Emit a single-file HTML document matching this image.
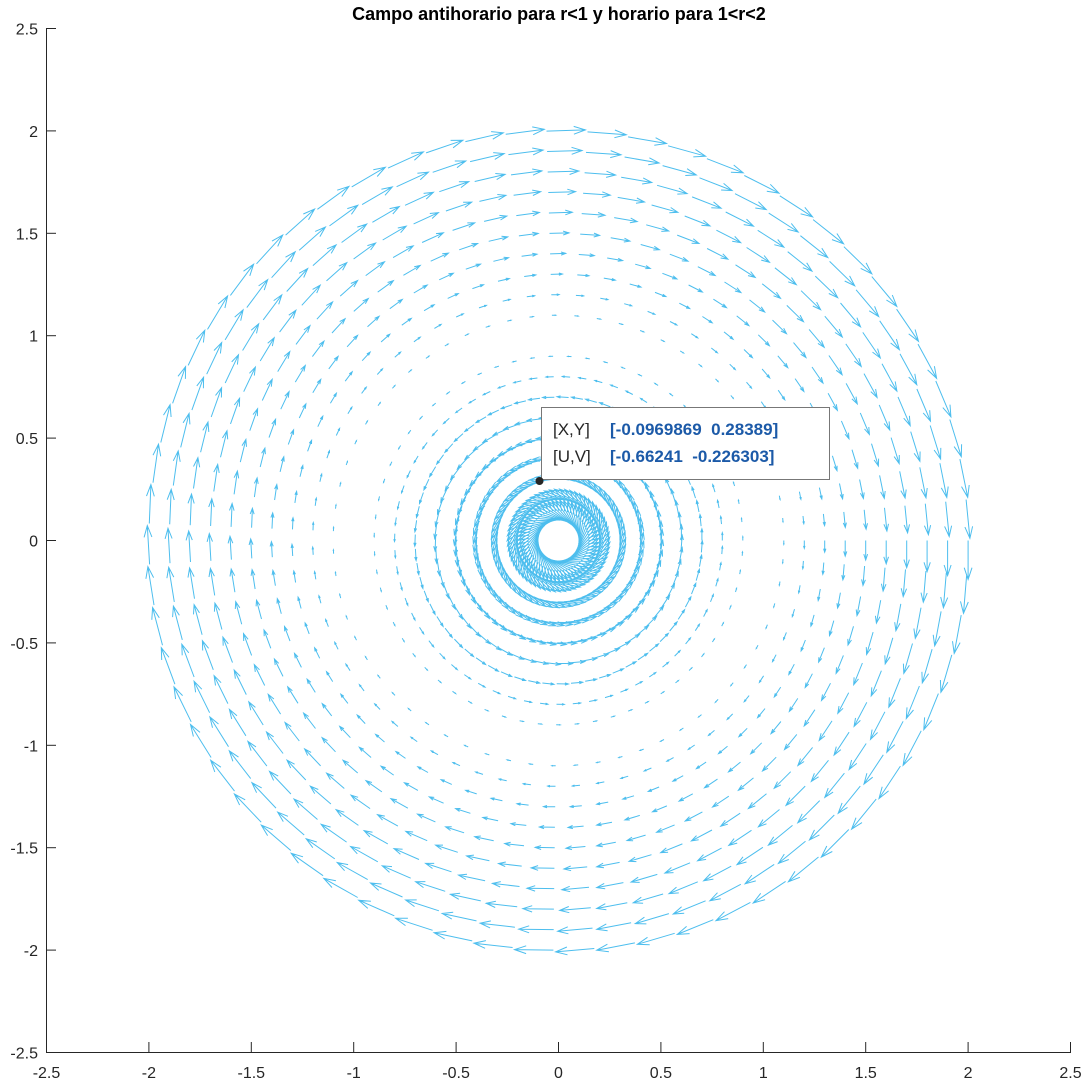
<!DOCTYPE html>
<html><head><meta charset="utf-8"><style>
body{margin:0;background:#fff}
svg text{font-family:"Liberation Sans",Arial,sans-serif}
.pre{white-space:pre}
</style></head><body>
<svg id="s" width="1088" height="1084" xmlns="http://www.w3.org/2000/svg">
<rect width="1088" height="1084" fill="#fff"/>
<g id="q" stroke="#4DBEEE" stroke-width="1" fill="none"></g>
<g stroke="#262626" stroke-width="1">
<line x1="46.5" y1="29" x2="46.5" y2="1052.5"/>
<line x1="46" y1="1052.5" x2="1071" y2="1052.5"/>
</g>
<g id="ax" font-size="16" fill="#262626"></g>
<text x="559" y="20" font-size="18" font-weight="bold" text-anchor="middle" fill="#000">Campo antihorario para r&lt;1 y horario para 1&lt;r&lt;2</text>
<rect x="541.5" y="407.5" width="288" height="72" fill="#fff" stroke="#777"/>
<text x="553" y="435" font-size="17" fill="#262626">[X,Y]</text>
<text class="pre" x="610" y="435" font-size="17" font-weight="bold" fill="#1c5aa8" xml:space="preserve">[-0.0969869  0.28389]</text>
<text x="553" y="462" font-size="17" fill="#262626">[U,V]</text>
<text class="pre" x="610" y="462" font-size="17" font-weight="bold" fill="#1c5aa8" xml:space="preserve">[-0.66241  -0.226303]</text>
<circle cx="539.5" cy="481" r="4" fill="#262626"/>
</svg>
<script>
var X0=558.5,Y0=540.5,S=204.8,K=0.19,ns="http://www.w3.org/2000/svg";
var d="";
for(var i=1;i<=20;i++){var r=i/10;
 for(var j=0;j<63;j++){var t=j*0.1;
  var m=1-r;var u=-m*Math.sin(t)*K,v=m*Math.cos(t)*K;
  var x=r*Math.cos(t),y=r*Math.sin(t);
  var px=X0+x*S,py=Y0-y*S,qx=X0+(x+u)*S,qy=Y0-(y+v)*S;
  var dx=qx-px,dy=qy-py,L=Math.hypot(dx,dy);if(L<0.3)continue;
  var ux=dx/L,uy=dy/L,h=0.3*L,w=0.1*L;
  d+="M"+px.toFixed(1)+" "+py.toFixed(1)+"L"+qx.toFixed(1)+" "+qy.toFixed(1);
  d+="M"+(qx-h*ux+w*uy).toFixed(1)+" "+(qy-h*uy-w*ux).toFixed(1)+"L"+qx.toFixed(1)+" "+qy.toFixed(1)+"L"+(qx-h*ux-w*uy).toFixed(1)+" "+(qy-h*uy+w*ux).toFixed(1);
 }}
var p=document.createElementNS(ns,"path");p.setAttribute("d",d);document.getElementById("q").appendChild(p);
var ax=document.getElementById("ax"),g="";
for(var k=-5;k<=5;k++){var val=k/2,lab=(val+"");
 var xp=X0+val*S,yp=Y0-val*S;
 g+='<line x1="'+xp+'" y1="1052" x2="'+xp+'" y2="1042" stroke="#262626"/>';
 g+='<line x1="46" y1="'+yp+'" x2="56" y2="'+yp+'" stroke="#262626"/>';
 g+='<text x="'+xp+'" y="1078" text-anchor="middle">'+lab+'</text>';
 g+='<text x="38" y="'+(yp+6)+'" text-anchor="end">'+lab+'</text>';
}
ax.innerHTML=g;
</script>
</body></html>
